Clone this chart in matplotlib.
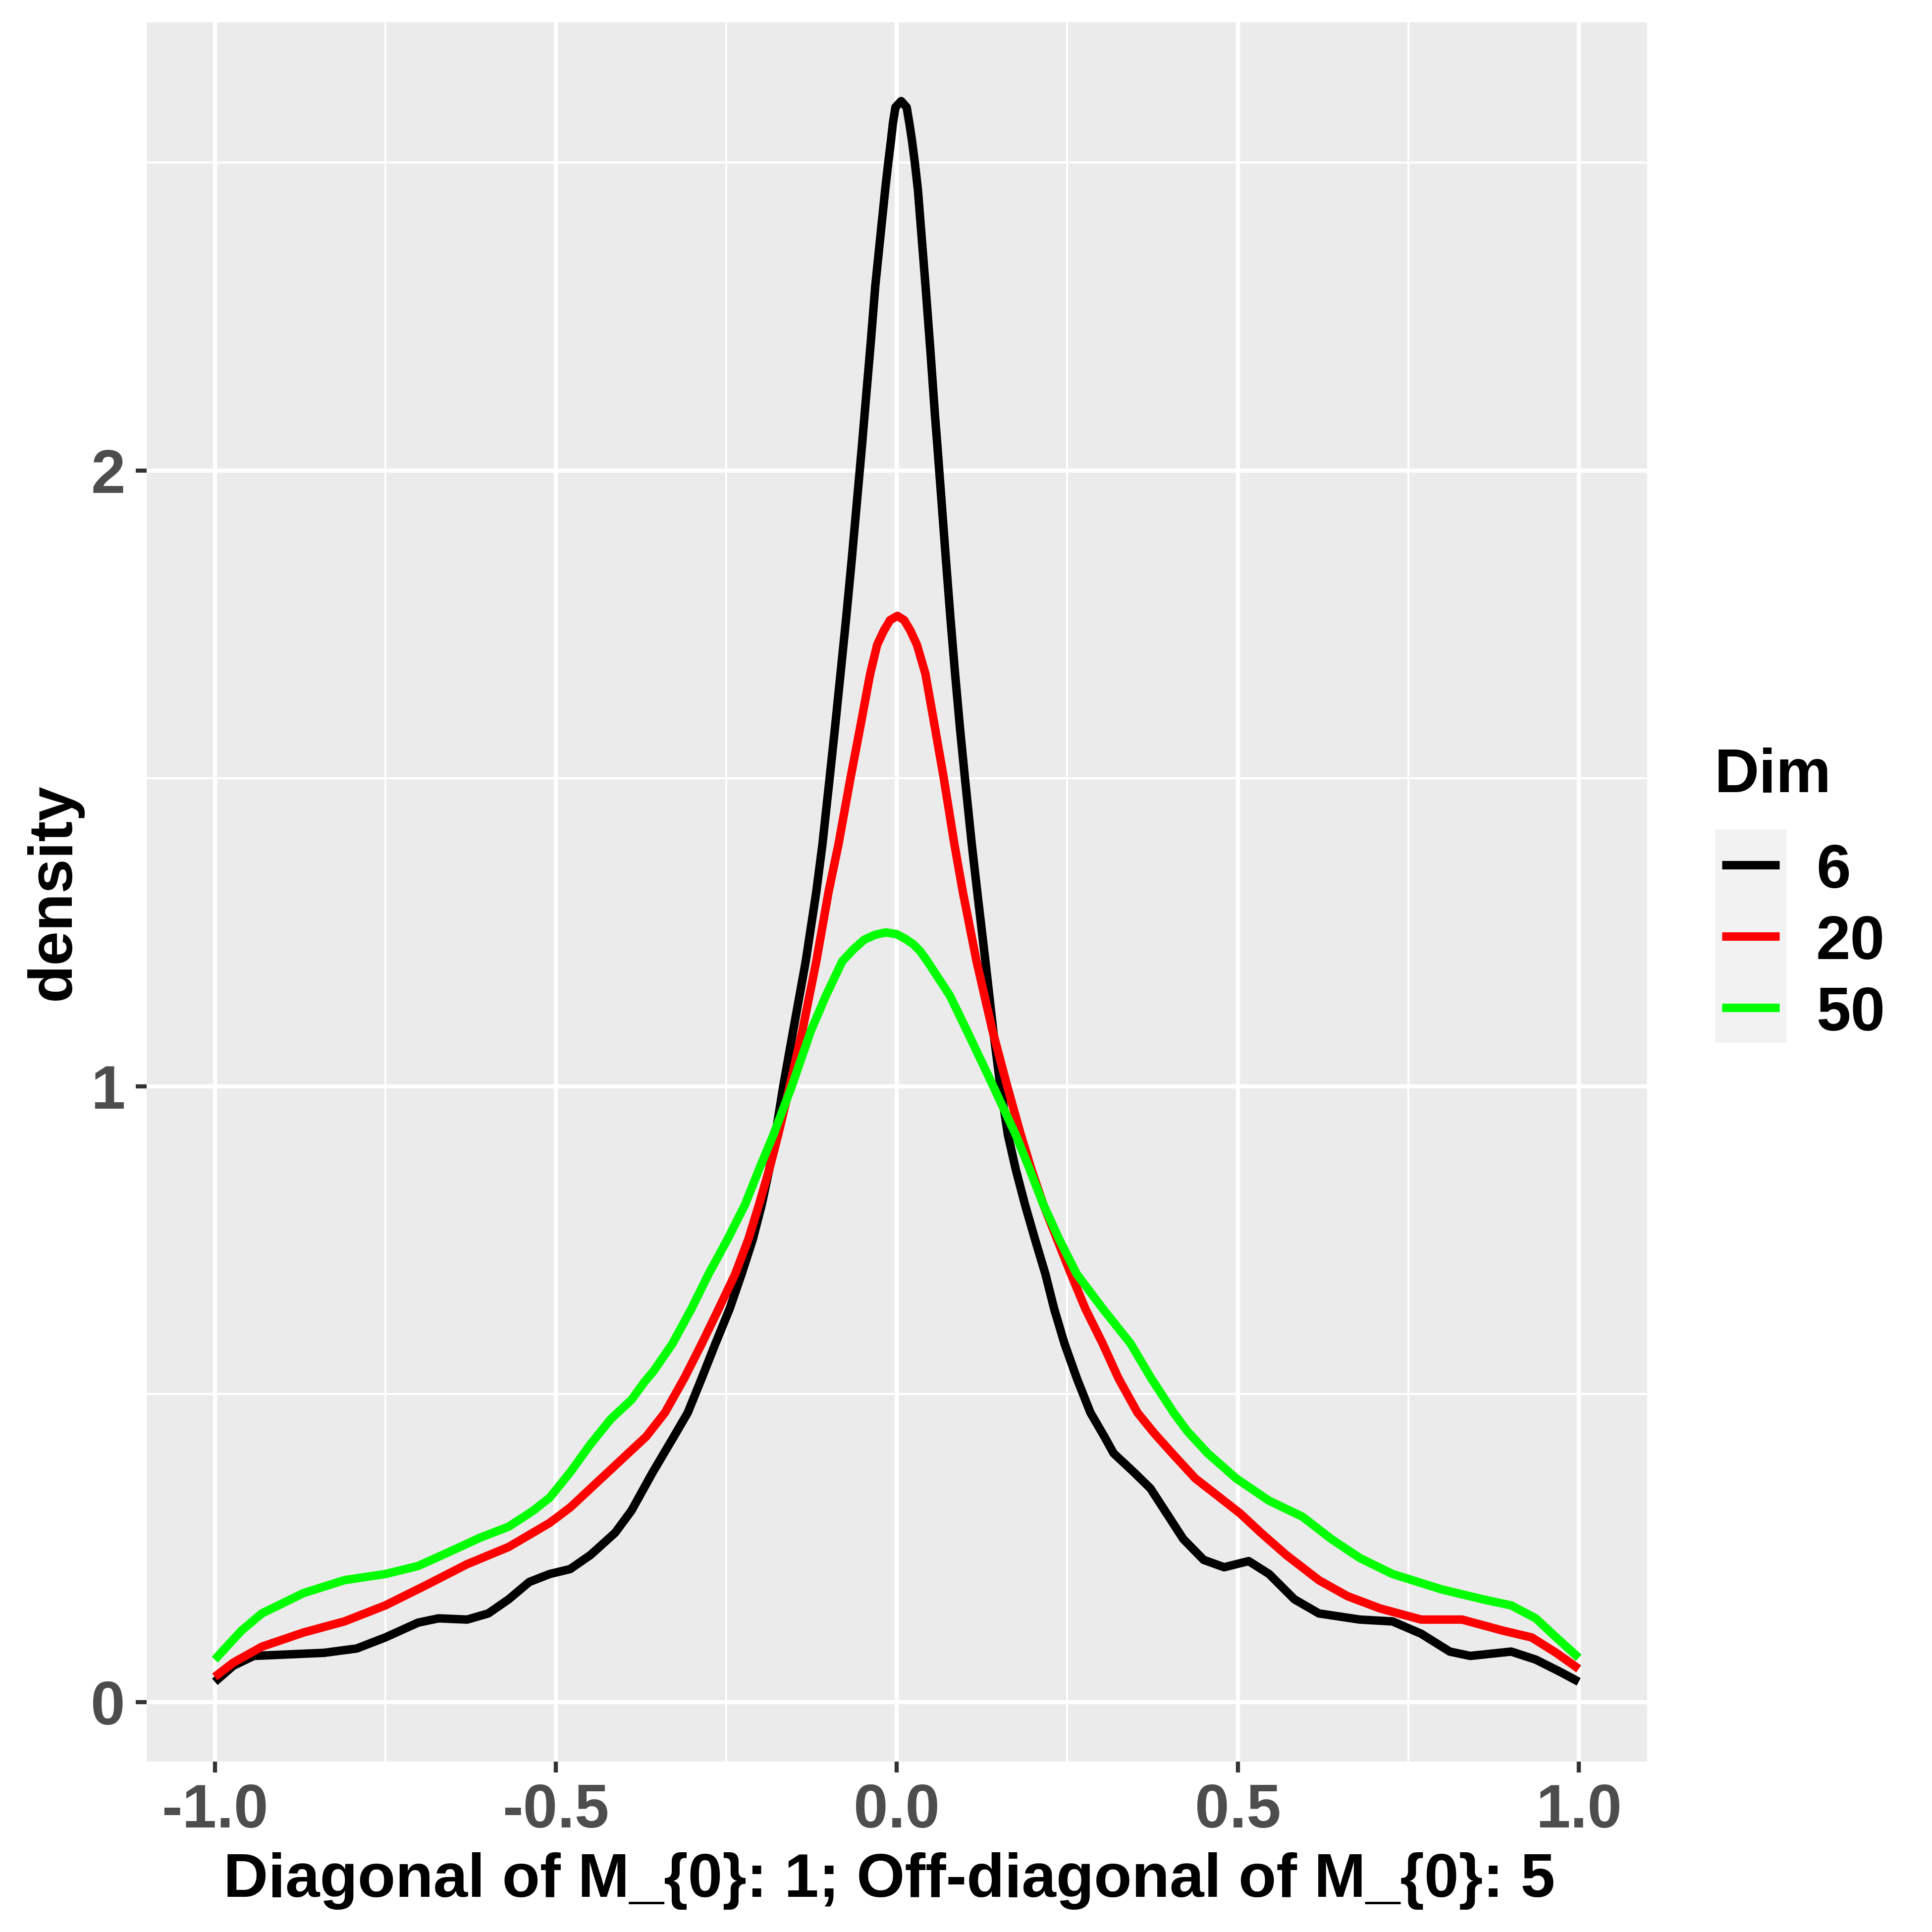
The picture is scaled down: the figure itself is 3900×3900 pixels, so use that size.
import matplotlib
matplotlib.use('Agg')
import matplotlib.pyplot as plt
from matplotlib.lines import Line2D
from matplotlib.patches import Rectangle

plt.rcParams['font.family'] = ['Liberation Sans', 'DejaVu Sans']
plt.rcParams['font.weight'] = 'bold'

# density curves, one pair of lists per Dim
dims = ['6', '20', '50']

dim6_x = [-1.0, -0.973, -0.943, -0.901, -0.840, -0.792, -0.750, -0.702, -0.672, -0.630,
          -0.599, -0.569, -0.539, -0.509, -0.479, -0.449, -0.413, -0.389, -0.358, -0.327,
          -0.3065, -0.286, -0.266, -0.245, -0.2276, -0.211, -0.198, -0.187, -0.178, -0.1665,
          -0.152, -0.1335, -0.118, -0.109, -0.0985, -0.091, -0.0825, -0.074, -0.066, -0.051,
          -0.0465, -0.038, -0.0315, -0.017, -0.0126, -0.0085, -0.0058, -0.002, 0.0065, 0.0145,
          0.0186, 0.0223, 0.0266, 0.031, 0.0425, 0.0495, 0.056, 0.0595, 0.072, 0.0785,
          0.0855, 0.093, 0.100, 0.110, 0.118, 0.130, 0.1415, 0.152, 0.163, 0.1745,
          0.188, 0.2026, 0.218, 0.2307, 0.246, 0.264, 0.284, 0.3045, 0.318, 0.348,
          0.372, 0.396, 0.420, 0.450, 0.480, 0.516, 0.546, 0.583, 0.619, 0.679,
          0.727, 0.769, 0.811, 0.841, 0.901, 0.937, 0.973, 1.0]
dim6_y = [0.033, 0.059, 0.075, 0.077, 0.080, 0.087, 0.105, 0.129, 0.136, 0.134,
          0.144, 0.167, 0.195, 0.208, 0.216, 0.239, 0.275, 0.311, 0.373, 0.431,
          0.470, 0.526, 0.582, 0.639, 0.695, 0.752, 0.808, 0.865, 0.921, 1.000,
          1.090, 1.203, 1.316, 1.393, 1.500, 1.578, 1.670, 1.763, 1.856, 2.041,
          2.100, 2.210, 2.300, 2.456, 2.499, 2.536, 2.563, 2.590, 2.600, 2.590,
          2.563, 2.536, 2.499, 2.456, 2.295, 2.192, 2.090, 2.041, 1.856, 1.763,
          1.670, 1.578, 1.500, 1.393, 1.316, 1.203, 1.090, 1.000, 0.921, 0.865,
          0.808, 0.752, 0.695, 0.639, 0.582, 0.526, 0.470, 0.431, 0.404, 0.373,
          0.347, 0.306, 0.265, 0.231, 0.219, 0.229, 0.208, 0.167, 0.144, 0.134,
          0.131, 0.111, 0.082, 0.075, 0.082, 0.069, 0.049, 0.033]

dim20_x = [-1.0, -0.973, -0.931, -0.870, -0.810, -0.750, -0.690, -0.630, -0.569, -0.509,
           -0.479, -0.449, -0.419, -0.389, -0.3676, -0.340, -0.3116, -0.286, -0.261, -0.237,
           -0.2175, -0.202, -0.187, -0.174, -0.157, -0.1385, -0.118, -0.100, -0.0855, -0.068,
           -0.0545, -0.039, -0.0288, -0.019, -0.010, 0.001, 0.011, 0.020, 0.0296, 0.042,
           0.0567, 0.069, 0.0845, 0.097, 0.117, 0.1405, 0.162, 0.182, 0.1975, 0.215,
           0.235, 0.2555, 0.2765, 0.302, 0.325, 0.353, 0.378, 0.408, 0.438, 0.474,
           0.504, 0.534, 0.571, 0.619, 0.661, 0.709, 0.769, 0.829, 0.889, 0.931,
           0.967, 1.0]
dim20_y = [0.041, 0.064, 0.090, 0.113, 0.131, 0.157, 0.190, 0.224, 0.252, 0.291,
           0.316, 0.347, 0.378, 0.409, 0.431, 0.470, 0.526, 0.582, 0.639, 0.695,
           0.752, 0.808, 0.865, 0.921, 1.000, 1.090, 1.203, 1.316, 1.393, 1.500,
           1.578, 1.670, 1.717, 1.740, 1.757, 1.764, 1.757, 1.740, 1.717, 1.670,
           1.578, 1.500, 1.393, 1.315, 1.203, 1.090, 1.000, 0.921, 0.865, 0.808,
           0.752, 0.695, 0.639, 0.582, 0.526, 0.470, 0.436, 0.399, 0.363, 0.332,
           0.306, 0.275, 0.239, 0.198, 0.172, 0.152, 0.134, 0.134, 0.116, 0.105,
           0.080, 0.054]

dim50_x = [-1.0, -0.961, -0.931, -0.870, -0.810, -0.750, -0.702, -0.660, -0.611, -0.569,
           -0.533, -0.509, -0.479, -0.449, -0.419, -0.389, -0.370, -0.357, -0.329, -0.301,
           -0.276, -0.248, -0.2225, -0.202, -0.181, -0.154, -0.126, -0.104, -0.080, -0.064,
           -0.048, -0.032, -0.016, 0.0, 0.012, 0.024, 0.034, 0.045, 0.078, 0.103,
           0.127, 0.1415, 0.1746, 0.195, 0.215, 0.238, 0.264, 0.302, 0.343, 0.373,
           0.406, 0.426, 0.456, 0.498, 0.546, 0.595, 0.637, 0.679, 0.727, 0.799,
           0.859, 0.901, 0.937, 0.967, 1.0]
dim50_y = [0.069, 0.116, 0.144, 0.177, 0.198, 0.208, 0.221, 0.242, 0.267, 0.285,
           0.311, 0.332, 0.373, 0.419, 0.460, 0.491, 0.520, 0.537, 0.582, 0.639,
           0.695, 0.752, 0.808, 0.865, 0.921, 1.000, 1.090, 1.147, 1.203, 1.222,
           1.238, 1.246, 1.250, 1.247, 1.240, 1.231, 1.220, 1.203, 1.147, 1.090,
           1.034, 1.000, 0.921, 0.865, 0.808, 0.752, 0.695, 0.639, 0.582, 0.526,
           0.470, 0.440, 0.404, 0.363, 0.327, 0.301, 0.265, 0.234, 0.208, 0.183,
           0.167, 0.157, 0.136, 0.105, 0.072]

x_ticks = [-1.0, -0.5, 0.0, 0.5, 1.0]
x_tick_labels = ['-1.0', '-0.5', '0.0', '0.5', '1.0']
x_minor = [-0.75, -0.25, 0.25, 0.75]
y_ticks = [0, 1, 2]
y_tick_labels = ['0', '1', '2']
y_minor = [0.5, 1.5, 2.5]

x_title = 'Diagonal of M_{0}: 1; Off-diagonal of M_{0}: 5'
y_title = 'density'
legend_title = 'Dim'

colors = ['#000000', '#FF0000', '#00FF00']
series = [(dim6_x, dim6_y), (dim20_x, dim20_y), (dim50_x, dim50_y)]

W = 3900.0
fig = plt.figure(figsize=(13, 13), dpi=300)
ax = fig.add_axes([296 / W, 1 - 3555.6 / W, (3324.5 - 296) / W, (3555.6 - 45) / W])

for (xs, ys), c in zip(series, colors):
    ax.plot(xs, ys, color=c, linewidth=4.1, solid_capstyle='butt', solid_joinstyle='round')

ax.set_facecolor('#EBEBEB')
ax.set_xlim(-1.1, 1.1)
ax.set_ylim(-0.0963, 2.728)
ax.set_xticks(x_ticks)
ax.set_xticklabels(x_tick_labels)
ax.set_xticks(x_minor, minor=True)
ax.set_yticks(y_ticks)
ax.set_yticklabels(y_tick_labels)
ax.set_yticks(y_minor, minor=True)
ax.set_axisbelow(True)
ax.grid(which='major', color='white', linewidth=2.0)
ax.grid(which='minor', color='white', linewidth=1.0)
ax.tick_params(which='major', length=5.3, width=2.0, color='#333333',
               labelsize=30, labelcolor='#4D4D4D', pad=5)
ax.tick_params(which='minor', length=0)
for s in ax.spines.values():
    s.set_visible(False)

ax.set_xlabel(x_title, fontsize=30, fontweight='bold', labelpad=5.8)
ax.xaxis.label.set_x(0.495)
ax.set_ylabel(y_title, fontsize=30, fontweight='bold', labelpad=4)


def fx(px):
    return px / W


def fy(py):
    return 1 - py / W


# legend drawn by hand to get the ggplot look
fig.text(fx(3461), fy(1599), legend_title, fontsize=30, fontweight='bold',
         ha='left', va='baseline')
fig.add_artist(Rectangle((fx(3462), fy(2105)), (3606 - 3462) / W, (2105 - 1674) / W,
                         transform=fig.transFigure, facecolor='#F2F2F2', edgecolor='none'))
for i, (d, c) in enumerate(zip(dims, colors)):
    yc = 1746 + 144.2 * i
    fig.add_artist(Line2D([fx(3476), fx(3592)], [fy(yc), fy(yc)], transform=fig.transFigure,
                          color=c, linewidth=4.1, solid_capstyle='butt'))
    fig.text(fx(3666), fy(yc + 46), d, fontsize=30, fontweight='bold',
             ha='left', va='baseline')

fig.savefig('out.png', dpi=300, facecolor='white')
